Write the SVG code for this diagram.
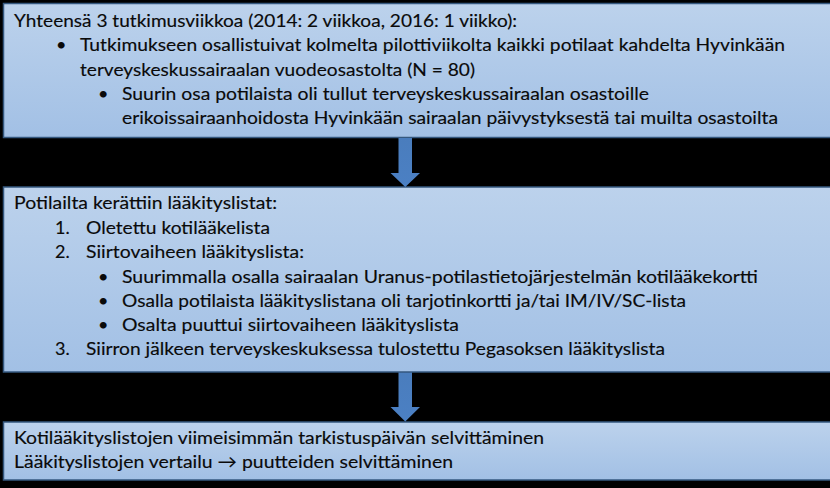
<svg xmlns="http://www.w3.org/2000/svg" width="830" height="488" viewBox="0 0 830 488">
<defs>
<linearGradient id="boxg" x1="0" y1="0" x2="0" y2="1">
<stop offset="0" stop-color="#bcd2ec"/>
<stop offset="1" stop-color="#a2c0e5"/>
</linearGradient>
<linearGradient id="arrg" x1="0" y1="0" x2="0" y2="1">
<stop offset="0" stop-color="#4a7dbd"/>
<stop offset="1" stop-color="#4b80c4"/>
</linearGradient>
</defs>
<style>
.box{fill:url(#boxg);stroke:#35587f;stroke-width:1.5}
.t{font-family:Lato,"Liberation Sans",sans-serif;font-size:18px;fill:#0a0a0a;stroke:#0a0a0a;stroke-width:0.15}
.arrow{fill:url(#arrg)}
</style>
<rect x="0" y="0" width="830" height="488" fill="#000000"/>
<g id="box1">
<rect class="box" x="3.5" y="3.5" width="830" height="134"/>
<text class="t" x="14" y="27" textLength="503" lengthAdjust="spacingAndGlyphs">Yhteensä 3 tutkimusviikkoa (2014: 2 viikkoa, 2016: 1 viikko):</text>
<text class="t" x="56" y="51">•</text>
<text class="t" x="80" y="51" textLength="705" lengthAdjust="spacingAndGlyphs">Tutkimukseen osallistuivat kolmelta pilottiviikolta kaikki potilaat kahdelta Hyvinkään</text>
<text class="t" x="80" y="76" textLength="395" lengthAdjust="spacingAndGlyphs">terveyskeskussairaalan vuodeosastolta (N = 80)</text>
<text class="t" x="98" y="100">•</text>
<text class="t" x="122" y="100" textLength="527" lengthAdjust="spacingAndGlyphs">Suurin osa potilaista oli tullut terveyskeskussairaalan osastoille</text>
<text class="t" x="122" y="124" textLength="656" lengthAdjust="spacingAndGlyphs">erikoissairaanhoidosta Hyvinkään sairaalan päivystyksestä tai muilta osastoilta</text>
</g>
<g id="box2">
<rect class="box" x="3.5" y="187" width="830" height="185"/>
<text class="t" x="14" y="209" textLength="263" lengthAdjust="spacingAndGlyphs">Potilailta kerättiin lääkityslistat:</text>
<text class="t" x="55" y="234">1.</text>
<text class="t" x="86" y="234" textLength="184" lengthAdjust="spacingAndGlyphs">Oletettu kotilääkelista</text>
<text class="t" x="55" y="258">2.</text>
<text class="t" x="86" y="258" textLength="218" lengthAdjust="spacingAndGlyphs">Siirtovaiheen lääkityslista:</text>
<text class="t" x="98" y="283">•</text>
<text class="t" x="122" y="283" textLength="636" lengthAdjust="spacingAndGlyphs">Suurimmalla osalla sairaalan Uranus-potilastietojärjestelmän kotilääkekortti</text>
<text class="t" x="98" y="307">•</text>
<text class="t" x="122" y="307" textLength="564" lengthAdjust="spacingAndGlyphs">Osalla potilaista lääkityslistana oli tarjotinkortti ja/tai IM/IV/SC-lista</text>
<text class="t" x="98" y="331">•</text>
<text class="t" x="122" y="331" textLength="337" lengthAdjust="spacingAndGlyphs">Osalta puuttui siirtovaiheen lääkityslista</text>
<text class="t" x="55" y="355">3.</text>
<text class="t" x="86" y="355" textLength="579" lengthAdjust="spacingAndGlyphs">Siirron jälkeen terveyskeskuksessa tulostettu Pegasoksen lääkityslista</text>
</g>
<g id="box3">
<rect class="box" x="3.5" y="422" width="830" height="58"/>
<text class="t" x="14" y="444" textLength="530" lengthAdjust="spacingAndGlyphs">Kotilääkityslistojen viimeisimmän tarkistuspäivän selvittäminen</text>
<text class="t" x="14" y="468" textLength="439" lengthAdjust="spacingAndGlyphs">Lääkityslistojen vertailu → puutteiden selvittäminen</text>
</g>
<g id="connectors">
<polygon class="arrow" points="398.5,138 412,138 412,173 420,173 405.25,187 390.5,173 398.5,173"/>
<polygon class="arrow" points="398.5,372.5 412,372.5 412,407 420,407 405.25,421.5 390.5,407 398.5,407"/>
</g>
</svg>
